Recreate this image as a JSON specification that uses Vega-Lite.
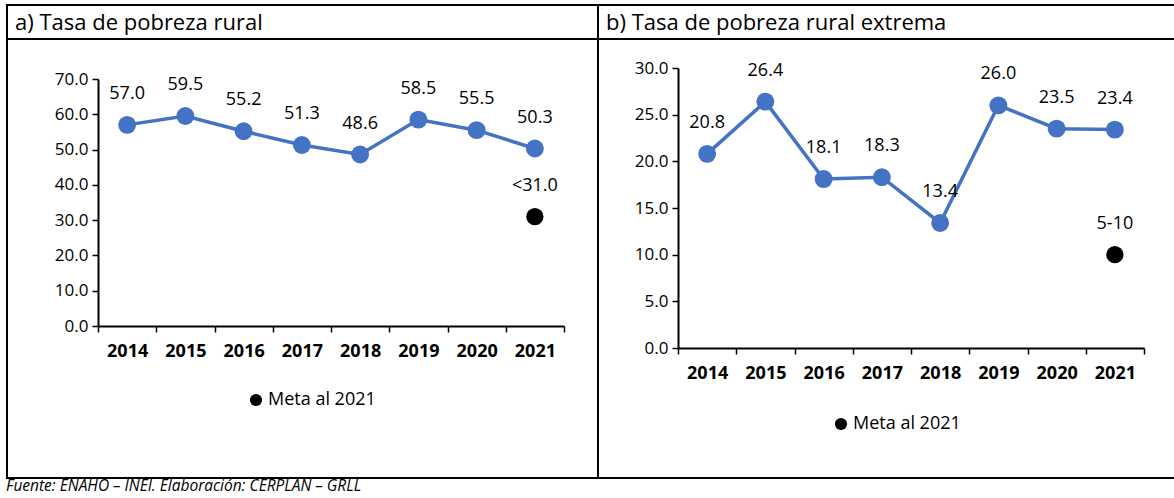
{
  "$schema": "https://vega.github.io/schema/vega-lite/v6.json",
  "padding": {"left": 6, "top": 4, "right": 0, "bottom": 0},
  "background": "white",
  "title": {"text": "Fuente: ENAHO – INEI. Elaboración: CERPLAN – GRLL", "orient": "bottom", "anchor": "start", "fontSize": 15.5, "fontStyle": "italic", "fontWeight": "normal", "offset": 0, "color": "black", "font": "Open Sans"},
  "columns": 2,
  "spacing": 0,
  "bounds": "flush",
  "resolve": {"scale": {"color": "independent"}, "legend": {"color": "independent"}},
  "concat": [
    {
      "width": 591, "height": 34,
      "data": {"values": [{"t": "a) Tasa de pobreza rural"}]},
      "mark": {"type": "text", "align": "left", "baseline": "middle", "fontSize": 22, "dx": 8, "dy": 1, "color": "black"},
      "encoding": {
        "text": {"field": "t"},
        "x": {"datum": 0, "type": "quantitative", "scale": {"domain": [0, 1]}, "axis": null},
        "y": {"datum": 0.5, "type": "quantitative", "scale": {"domain": [0, 1]}, "axis": null}
      }
    },
    {
      "width": 577, "height": 34,
      "data": {"values": [{"t": "b) Tasa de pobreza rural extrema"}]},
      "mark": {"type": "text", "align": "left", "baseline": "middle", "fontSize": 22, "dx": 8, "dy": 1, "color": "black"},
      "encoding": {
        "text": {"field": "t"},
        "x": {"datum": 0, "type": "quantitative", "scale": {"domain": [0, 1]}, "axis": null},
        "y": {"datum": 0.5, "type": "quantitative", "scale": {"domain": [0, 1]}, "axis": null}
      }
    },
    {
      "width": 591, "height": 439,
      "data": {"values": [
        {"anio": "2014", "v": 57.0, "lab": "57.0", "tipo": "serie"},
        {"anio": "2015", "v": 59.5, "lab": "59.5", "tipo": "serie"},
        {"anio": "2016", "v": 55.2, "lab": "55.2", "tipo": "serie"},
        {"anio": "2017", "v": 51.3, "lab": "51.3", "tipo": "serie"},
        {"anio": "2018", "v": 48.6, "lab": "48.6", "tipo": "serie"},
        {"anio": "2019", "v": 58.5, "lab": "58.5", "tipo": "serie"},
        {"anio": "2020", "v": 55.5, "lab": "55.5", "tipo": "serie"},
        {"anio": "2021", "v": 50.3, "lab": "50.3", "tipo": "serie"},
        {"anio": "2021", "v": 31.0, "lab": "<31.0", "tipo": "Meta al 2021"}
      ]},
      "encoding": {
        "x": {"field": "anio", "type": "ordinal", "title": null,
              "scale": {"type": "band", "range": [91, 557], "paddingInner": 0, "paddingOuter": 0},
              "axis": {"offset": -152, "labelAngle": 0, "labelFontWeight": "bold", "labelFontSize": 18, "labelPadding": 10, "tickBand": "extent"}},
        "y": {"field": "v", "type": "quantitative", "title": null,
              "scale": {"domain": [0, 70], "range": [287, 40]},
              "axis": {"offset": -91, "values": [0, 10, 20, 30, 40, 50, 60, 70], "format": ".1f"}}
      },
      "layer": [
        {"transform": [{"filter": "datum.tipo === 'serie'"}], "mark": {"type": "line", "color": "#4472C4", "strokeWidth": 3.5}},
        {"transform": [{"filter": "datum.tipo === 'serie'"}], "mark": {"type": "point", "filled": true, "opacity": 1, "color": "#4472C4", "size": 320}},
        {"mark": {"type": "text", "dy": -31, "fontSize": 18, "color": "black"}, "encoding": {"text": {"field": "lab"}}},
        {"transform": [{"filter": "datum.tipo !== 'serie'"}], "mark": {"type": "point", "filled": true, "opacity": 1, "size": 300},
         "encoding": {"color": {"field": "tipo", "type": "nominal", "scale": {"domain": ["Meta al 2021"], "range": ["black"]},
           "legend": {"orient": "none", "legendX": 240, "legendY": 352, "title": null, "labelFontSize": 18, "symbolSize": 150, "labelOffset": 3}}}}
      ]
    },
    {
      "width": 577, "height": 439,
      "data": {"values": [
        {"anio": "2014", "v": 20.8, "lab": "20.8", "tipo": "serie"},
        {"anio": "2015", "v": 26.4, "lab": "26.4", "tipo": "serie"},
        {"anio": "2016", "v": 18.1, "lab": "18.1", "tipo": "serie"},
        {"anio": "2017", "v": 18.3, "lab": "18.3", "tipo": "serie"},
        {"anio": "2018", "v": 13.4, "lab": "13.4", "tipo": "serie"},
        {"anio": "2019", "v": 26.0, "lab": "26.0", "tipo": "serie"},
        {"anio": "2020", "v": 23.5, "lab": "23.5", "tipo": "serie"},
        {"anio": "2021", "v": 23.4, "lab": "23.4", "tipo": "serie"},
        {"anio": "2021", "v": 10.0, "lab": "5-10", "tipo": "Meta al 2021"}
      ]},
      "encoding": {
        "x": {"field": "anio", "type": "ordinal", "title": null,
              "scale": {"type": "band", "range": [80, 546], "paddingInner": 0, "paddingOuter": 0},
              "axis": {"offset": -130, "labelAngle": 0, "labelFontWeight": "bold", "labelFontSize": 18, "labelPadding": 10, "tickBand": "extent"}},
        "y": {"field": "v", "type": "quantitative", "title": null,
              "scale": {"domain": [0, 30], "range": [309, 29]},
              "axis": {"offset": -80, "values": [0, 5, 10, 15, 20, 25, 30], "format": ".1f"}}
      },
      "layer": [
        {"transform": [{"filter": "datum.tipo === 'serie'"}], "mark": {"type": "line", "color": "#4472C4", "strokeWidth": 3.5}},
        {"transform": [{"filter": "datum.tipo === 'serie'"}], "mark": {"type": "point", "filled": true, "opacity": 1, "color": "#4472C4", "size": 320}},
        {"mark": {"type": "text", "dy": -31, "fontSize": 18, "color": "black"}, "encoding": {"text": {"field": "lab"}}},
        {"transform": [{"filter": "datum.tipo !== 'serie'"}], "mark": {"type": "point", "filled": true, "opacity": 1, "size": 300},
         "encoding": {"color": {"field": "tipo", "type": "nominal", "scale": {"domain": ["Meta al 2021"], "range": ["black"]},
           "legend": {"orient": "none", "legendX": 234, "legendY": 376, "title": null, "labelFontSize": 18, "symbolSize": 150, "labelOffset": 3}}}}
      ]
    }
  ],
  "config": {
    "font": "Open Sans",
    "view": {"stroke": "black", "strokeWidth": 2},
    "axis": {"grid": false, "domainColor": "black", "domainWidth": 2, "tickColor": "black", "tickWidth": 1.5, "tickSize": 6,
             "labelColor": "black", "labelFontSize": 17, "labelFont": "Open Sans", "labelPadding": 4},
    "legend": {"labelColor": "black", "labelFont": "Open Sans", "symbolStrokeWidth": 0, "padding": 0},
    "text": {"font": "Open Sans"}
  }
}
